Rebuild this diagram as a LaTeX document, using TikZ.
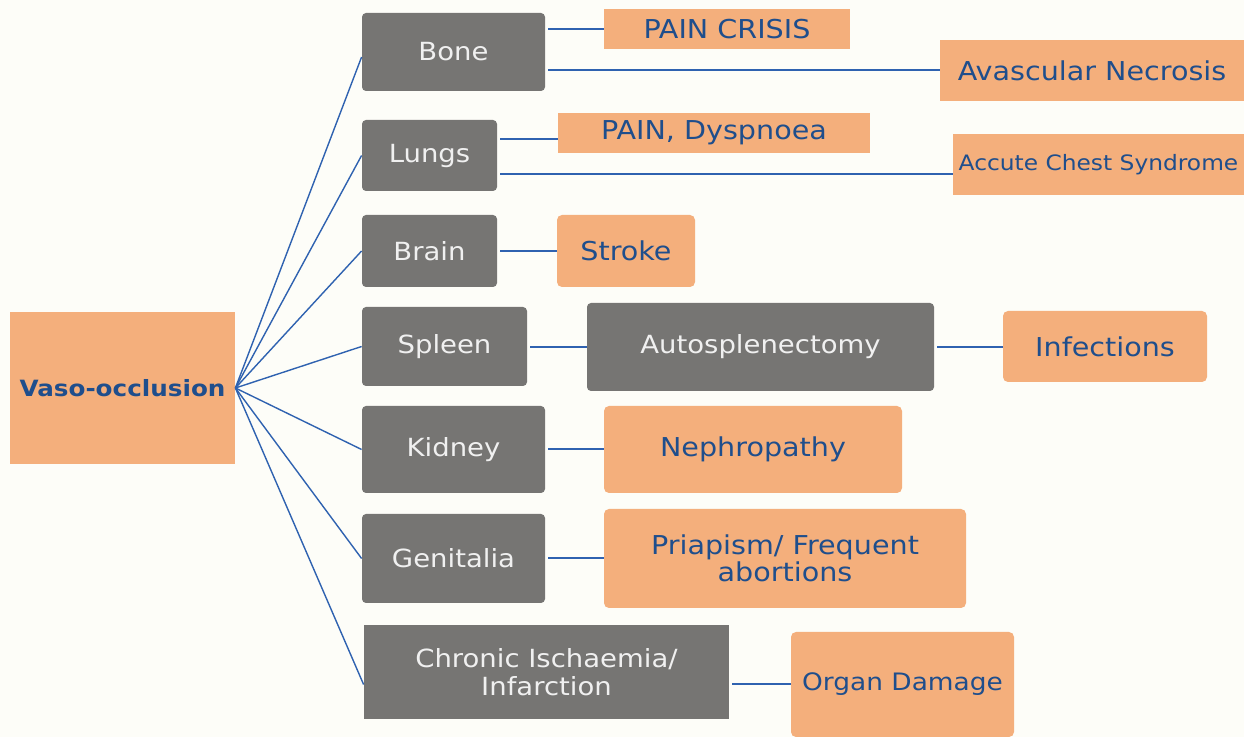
\documentclass[tikz,border=0pt]{standalone}
\usepackage{fontspec}
\setmainfont{DejaVu Sans}[FakeStretch=1.1]
\usetikzlibrary{calc}
\definecolor{bgc}{HTML}{FDFDF8}
\definecolor{orgc}{HTML}{F4AF7C}
\definecolor{gryc}{HTML}{767573}
\definecolor{txtb}{HTML}{1F4E8C}
\definecolor{lnb}{HTML}{2F62B0}
\begin{document}
\begin{tikzpicture}[x=0.5pt,y=-0.5pt,
  graybox/.style={fill=gryc, rounded corners=2pt, text=white!94!black, inner sep=0pt, align=center, font=\fontsize{12.5}{14}\selectfont},
  graysq/.style={graybox, rounded corners=0pt},
  orgbox/.style={fill=orgc, text=txtb, inner sep=0pt, align=center, font=\fontsize{13}{14}\selectfont},
  orgrd/.style={orgbox, rounded corners=2.5pt},
  link/.style={draw=lnb, line width=0.7pt},
  hlink/.style={draw=lnb, line width=1pt}]
\fill[bgc] (0,0) rectangle (1244,737);
\useasboundingbox (0,0) rectangle (1244,737);

% left root
\node[orgbox, minimum width=112.5pt, minimum height=76pt, font=\bfseries\fontsize{11.2}{13}\selectfont] (vaso) at (122.5,388) {Vaso-occlusion};

% gray organ boxes
\node[graybox, minimum width=91.5pt, minimum height=39pt] (bone) at (453.5,52) {Bone};
\node[graybox, minimum width=67.5pt, minimum height=35.5pt] (lungs) at (429.5,155.5) {Lungs};
\node[graybox, minimum width=67.5pt, minimum height=36pt] (brain) at (429.5,251) {Brain};
\node[graybox, minimum width=82.5pt, minimum height=39.5pt] (spleen) at (444.5,346.5) {Spleen};
\node[graybox, minimum width=91.5pt, minimum height=43.5pt] (kidney) at (453.5,449.5) {Kidney};
\node[graybox, minimum width=91.5pt, minimum height=44.5pt] (genit) at (453.5,558.5) {Genitalia};
\node[graysq, minimum width=182.5pt, minimum height=47pt] (chronic) at (546.5,672) {Chronic Ischaemia/\\Infarction};
\node[graybox, minimum width=173.5pt, minimum height=44pt] (auto) at (760.5,347) {Autosplenectomy};

% orange outcome boxes
\node[orgbox, minimum width=123pt, minimum height=20pt] (pc) at (727,29) {PAIN CRISIS};
\node[orgbox, minimum width=152pt, minimum height=30.5pt] (avn) at (1092,70.5) {Avascular Necrosis};
\node[orgbox, minimum width=156pt, minimum height=20pt] (pd) at (714,133) {PAIN, Dyspnoea};
\node[orgbox, minimum width=145.5pt, minimum height=30.5pt, font=\fontsize{10.6}{12}\selectfont] (acs) at (1098.5,164.5) {Accute Chest Syndrome};
\node[orgrd, minimum width=69pt, minimum height=36pt] (stroke) at (626,251) {Stroke};
\node[orgrd, minimum width=102pt, minimum height=35.5pt] (inf) at (1105,346.5) {Infections};
\node[orgrd, minimum width=149pt, minimum height=43.5pt] (neph) at (753,449.5) {Nephropathy};
\node[orgrd, minimum width=181pt, minimum height=49.5pt, font=\fontsize{13}{13.5}\selectfont] (pri) at (785,558.5) {Priapism/ Frequent\\abortions};
\node[orgrd, minimum width=111.5pt, minimum height=52.5pt, font=\fontsize{12}{14}\selectfont] (organ) at (902.5,684.5) {Organ Damage};

% helper coordinates for horizontal connector levels
\coordinate (ypd) at (0,139);
\coordinate (yacs) at (0,174);
\coordinate (ybone) at (0,57);

% fan from root
\draw[link] (vaso.east) -- (bone.west |- ybone);
\draw[link] (vaso.east) -- (lungs.west);
\draw[link] (vaso.east) -- (brain.west);
\draw[link] (vaso.east) -- (spleen.west);
\draw[link] (vaso.east) -- (kidney.west);
\draw[link] (vaso.east) -- (genit.west);
\draw[link] (vaso.east) -- (chronic.west |- organ.west);

% horizontal connectors
\draw[hlink, shorten <=1.5pt] (bone.east |- pc.west) -- (pc.west);
\draw[hlink, shorten <=1.5pt] (bone.east |- avn.west) -- (avn.west);
\draw[hlink, shorten <=1.5pt] (lungs.east |- ypd) -- (pd.west |- ypd);
\draw[hlink, shorten <=1.5pt] (lungs.east |- yacs) -- (acs.west |- yacs);
\draw[hlink, shorten <=1.5pt] (brain.east) -- (stroke.west);
\draw[hlink, shorten <=1.5pt] (spleen.east |- auto.west) -- (auto.west);
\draw[hlink, shorten <=1.5pt] (auto.east) -- (inf.west |- auto.east);
\draw[hlink, shorten <=1.5pt] (kidney.east) -- (neph.west);
\draw[hlink, shorten <=1.5pt] (genit.east) -- (pri.west);
\draw[hlink, shorten <=1.5pt] (chronic.east |- organ.west) -- (organ.west);
\end{tikzpicture}
\end{document}
